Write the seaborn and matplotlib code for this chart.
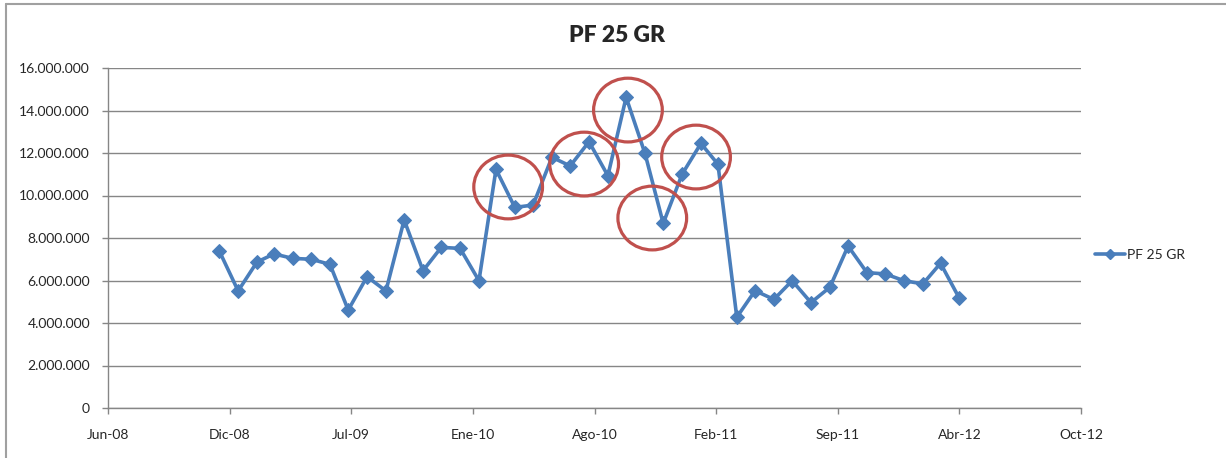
import pandas as pd
import numpy as np
import seaborn as sns
import matplotlib.pyplot as plt
import matplotlib.dates as mdates
from matplotlib.patches import Ellipse
from matplotlib.lines import Line2D

# monthly values, Dec-2008 .. Apr-2012
months = pd.date_range("2008-12-01", "2012-04-01", freq="MS")
values = [7.39, 5.51, 6.87, 7.25, 7.04, 7.00, 6.76, 4.61, 6.18, 5.51,
          8.85, 6.46, 7.56, 7.51, 5.99, 11.23, 9.44, 9.55, 11.80, 11.39,
          12.53, 10.93, 14.62, 11.98, 8.69, 11.00, 12.45, 11.47, 4.27, 5.52,
          5.11, 5.99, 4.96, 5.68, 7.62, 6.37, 6.31, 5.99, 5.84, 6.81, 5.16]
values = [v * 1e6 for v in values]
series_name = "PF 25 GR"

# red circles drawn on the chart (centre date, centre value)
circle_dates = pd.to_datetime(["2010-03-21", "2010-07-24", "2010-10-04",
                               "2010-11-13", "2011-01-24"])
circle_values = [10.40e6, 11.48e6, 14.02e6, 8.94e6, 11.81e6]

axis_start = pd.Timestamp("2008-06-01")
step_days = 200
n_steps = 8
mes = ["Ene", "Feb", "Mar", "Abr", "May", "Jun", "Jul", "Ago", "Sep",
       "Oct", "Nov", "Dic"]

df = pd.DataFrame({"fecha": months, "valor": values})

sns.set_style("white")
plt.rcParams["font.family"] = ["Lato", "DejaVu Sans"]

blue = "#4A7EBB"
grid = "#868686"

fig = plt.figure(figsize=(12.26, 4.58), dpi=100)
ax = fig.add_axes([108 / 1226, 1 - 408 / 458, 973 / 1226, 340 / 458])

sns.lineplot(data=df, x="fecha", y="valor", ax=ax, color=blue, lw=2.6,
             marker="D", markersize=7, markeredgecolor=blue, legend=False)

for d, v in zip(circle_dates, circle_values):
    ax.add_patch(Ellipse((mdates.date2num(d), v), width=113, height=3.0e6,
                         fill=False, edgecolor="#C0504D", lw=2.3, zorder=5))

ticks = [axis_start + pd.Timedelta(days=step_days * i) for i in range(n_steps + 1)]
ax.set_xlim(ticks[0], ticks[-1])
ax.set_xticks(ticks)
ax.set_xticklabels([f"{mes[t.month - 1]}-{t.strftime('%y')}" for t in ticks])
ax.set_ylim(0, 16e6)
ax.set_yticks(np.arange(0, 16e6 + 1, 2e6))
ax.set_yticklabels(["0" if y == 0 else f"{int(y):,}".replace(",", ".")
                    for y in np.arange(0, 16e6 + 1, 2e6)])

ax.grid(axis="y", color=grid, lw=1)
ax.set_axisbelow(True)
for s in ["top", "right"]:
    ax.spines[s].set_visible(False)
for s in ["left", "bottom"]:
    ax.spines[s].set_color(grid)
    ax.spines[s].set_linewidth(1)
ax.tick_params(axis="y", length=4, color=grid, width=1, pad=9, labelsize=10,
               left=True)
ax.tick_params(axis="x", length=4, color=grid, width=1, pad=11, labelsize=10,
               bottom=True)
ax.set_xlabel("")
ax.set_ylabel("")

fig.text(617 / 1226, 1 - 35 / 458, "PF 25 GR", ha="center", va="center",
         fontsize=16.5, fontweight="heavy")

handle = Line2D([], [], color=blue, lw=2.6, marker="D", markersize=5)
fig.legend([handle], [series_name], loc="center left",
           bbox_to_anchor=(1082 / 1226, 1 - 255 / 458), frameon=False,
           fontsize=10, handlelength=2.2, handletextpad=0.15)

# chart area border (top and left edges visible)
fig.add_artist(Line2D([6 / 1226, 1], [1 - 4 / 458, 1 - 4 / 458],
                      transform=fig.transFigure, color="#A0A0A0", lw=1.5))
fig.add_artist(Line2D([6 / 1226, 6 / 1226], [0, 1 - 4 / 458],
                      transform=fig.transFigure, color="#A0A0A0", lw=1.5))

fig.savefig("out.png", dpi=100)
